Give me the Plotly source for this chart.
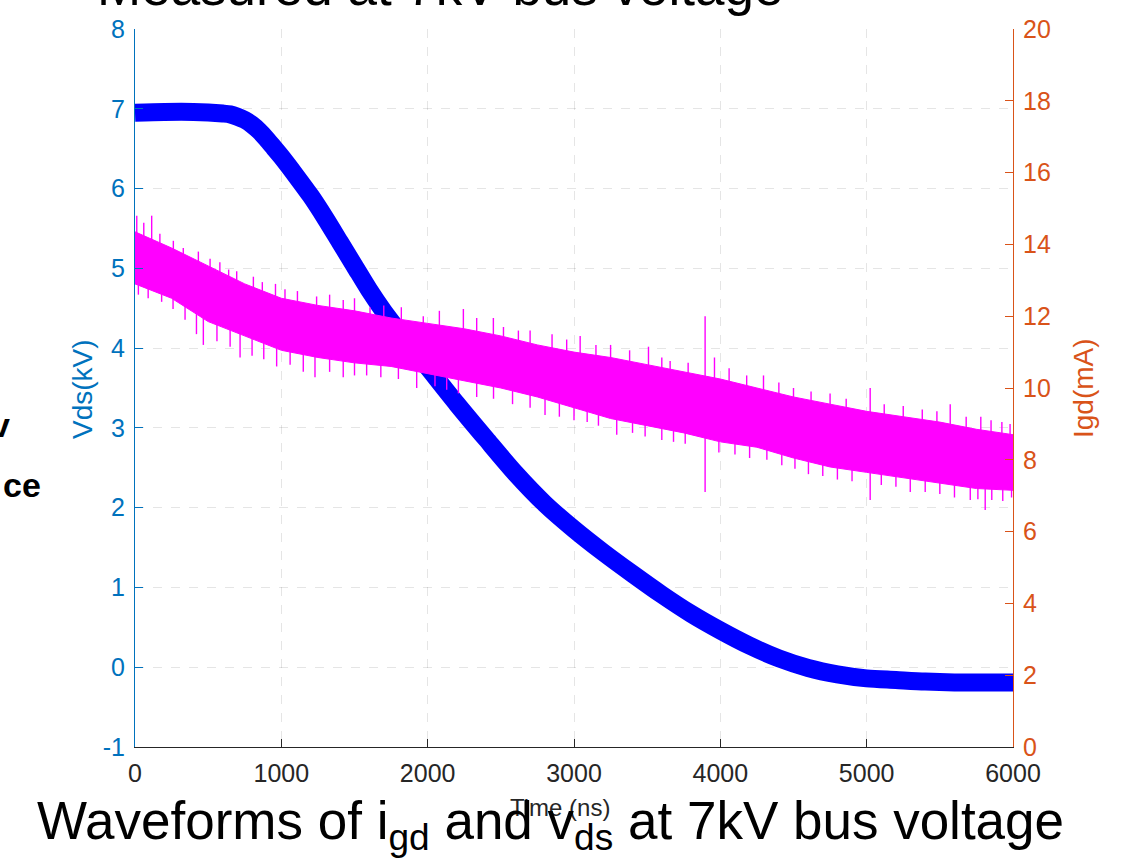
import plotly.graph_objects as go

# ---------------- data ----------------
# Vds (kV), left axis
t_vds = [0, 200, 400, 600, 650, 700, 750, 800, 850, 900, 950, 1000, 1100,
         1200, 1300, 1400, 1500, 1600, 1700, 1800, 1900, 2000, 2200, 2400,
         2600, 2800, 3000, 3200, 3400, 3600, 3800, 4000, 4200, 4400, 4600,
         4800, 5000, 5200, 5400, 5600, 5800, 6000]
vds = [6.95, 6.96, 6.96, 6.94, 6.93, 6.90, 6.86, 6.80, 6.72, 6.62, 6.51, 6.40,
       6.16, 5.91, 5.63, 5.33, 5.03, 4.73, 4.46, 4.22, 3.99, 3.76, 3.30, 2.86,
       2.43, 2.05, 1.73, 1.44, 1.17, 0.91, 0.67, 0.46, 0.27, 0.11, -0.01,
       -0.09, -0.14, -0.16, -0.18, -0.19, -0.19, -0.19]

# Igd (mA), right axis: dense band edges
t_igd = [0, 250, 500, 750, 1000, 1250, 1500, 1750, 2000, 2250, 2500, 2750,
         3000, 3250, 3500, 3750, 4000, 4250, 4500, 4750, 5000, 5250, 5500,
         5750, 6000]
igd_top = [14.35, 13.9, 13.4, 12.9, 12.5, 12.3, 12.15, 11.95, 11.8, 11.65,
           11.45, 11.2, 11.0, 10.85, 10.65, 10.45, 10.25, 10.0, 9.75, 9.55,
           9.35, 9.2, 9.05, 8.85, 8.7]
igd_bot = [12.9, 12.5, 11.85, 11.45, 11.05, 10.85, 10.7, 10.6, 10.4, 10.2,
           10.0, 9.75, 9.45, 9.15, 8.95, 8.75, 8.5, 8.35, 8.05, 7.8, 7.65, 7.5,
           7.35, 7.2, 7.15]

# Igd noise spikes: (time, tip value)
spike_up_t = [12, 60, 114, 170, 262, 330, 433, 513, 580, 640, 695, 809, 870,
              960, 1025, 1110, 1241, 1330, 1423, 1500, 1606, 1700, 1820, 1970,
              2080, 2244, 2335, 2449, 2518, 2620, 2700, 2850, 2950, 3042, 3150,
              3250, 3380, 3509, 3600, 3657, 3780, 3896, 3960, 4060, 4180, 4295,
              4400, 4500, 4620, 4750, 4860, 5024, 5120, 5250, 5380, 5480, 5571,
              5680, 5780, 5850, 5924, 5980]
spike_up_v = [14.8, 14.6, 14.8, 14.3, 14.1, 13.9, 13.8, 13.6, 13.5, 13.3,
              13.25, 13.1, 12.95, 12.9, 12.75, 12.7, 12.55, 12.6, 12.45, 12.5,
              12.25, 12.3, 12.25, 12.0, 12.15, 12.2, 11.95, 11.95, 11.7, 11.6,
              11.6, 11.5, 11.35, 11.45, 11.2, 11.2, 11.05, 11.15, 10.85, 10.75,
              10.7, 12.0, 10.85, 10.55, 10.35, 10.35, 10.15, 10.0, 9.9, 9.85,
              9.7, 10.0, 9.55, 9.5, 9.4, 9.35, 9.55, 9.2, 9.2, 9.1, 9.05, 9.0]
spike_dn_t = [23, 90, 182, 260, 342, 420, 467, 560, 650, 718, 800, 880, 968,
              1060, 1150, 1230, 1330, 1423, 1500, 1583, 1680, 1800, 1925, 2050,
              2130, 2210, 2335, 2450, 2580, 2700, 2802, 2900, 3000, 3090, 3167,
              3292, 3400, 3486, 3600, 3680, 3760, 3896, 3990, 4100, 4200, 4318,
              4420, 4510, 4602, 4700, 4800, 4900, 5024, 5100, 5200, 5298, 5400,
              5500, 5600, 5708, 5760, 5810, 5855, 5930, 5990]
spike_dn_v = [12.6, 12.5, 12.4, 12.2, 11.9, 11.5, 11.2, 11.3, 11.15, 10.85,
              10.9, 10.8, 10.6, 10.65, 10.45, 10.3, 10.45, 10.3, 10.35, 10.35,
              10.3, 10.25, 10.0, 10.05, 9.95, 9.85, 9.75, 9.7, 9.55, 9.45, 9.25,
              9.2, 9.1, 9.05, 8.95, 8.7, 8.75, 8.65, 8.55, 8.5, 8.45, 7.1, 8.2,
              8.15, 8.05, 8.0, 7.85, 7.75, 7.6, 7.55, 7.45, 7.4, 6.88, 7.3, 7.25,
              7.1, 7.1, 7.05, 6.95, 6.88, 6.9, 6.6, 6.88, 6.85, 6.95]

x_ticks = [0, 1000, 2000, 3000, 4000, 5000, 6000]
x_labels = ["0", "1000", "2000", "3000", "4000", "5000", "6000"]
y_ticks = [-1, 0, 1, 2, 3, 4, 5, 6, 7, 8]
y_labels = ["-1", "0", "1", "2", "3", "4", "5", "6", "7", "8"]
y2_ticks = [0, 2, 4, 6, 8, 10, 12, 14, 16, 18, 20]
y2_labels = ["0", "2", "4", "6", "8", "10", "12", "14", "16", "18", "20"]

# ---------------- styling ----------------
W, H = 1135, 864
L, R, T, B = 135, 122, 29, 117
PW, PH = W - L - R, H - T - B
BLUE_AX = "#0072BD"
ORANGE_AX = "#D95319"
DARK = "#262626"
FONT = "Liberation Sans, Arial, sans-serif"
TICK_SIZE = 25


def px(xp):
    return (xp - L) / PW


def py(yp):
    return (H - B - yp) / PH


def band_mid(t):
    # centre of the dense band at time t (from the band edge arrays)
    for i in range(len(t_igd) - 1):
        if t_igd[i] <= t <= t_igd[i + 1]:
            f = (t - t_igd[i]) / (t_igd[i + 1] - t_igd[i])
            top = igd_top[i] + f * (igd_top[i + 1] - igd_top[i])
            bot = igd_bot[i] + f * (igd_bot[i + 1] - igd_bot[i])
            return (top + bot) / 2
    return (igd_top[-1] + igd_bot[-1]) / 2


sx, sy = [], []
for t, v in zip(spike_up_t + spike_dn_t, spike_up_v + spike_dn_v):
    sx += [t, t, None]
    sy += [band_mid(t), v, None]

fig = go.Figure()

fig.add_trace(go.Scatter(x=t_vds, y=vds, mode="lines",
                         line=dict(color="#0000FF", width=18, shape="spline",
                                   smoothing=0.8),
                         hoverinfo="skip", showlegend=False, yaxis="y"))

fig.add_trace(go.Scatter(x=t_igd, y=igd_top, mode="lines",
                         line=dict(color="#FF00FF", width=1),
                         hoverinfo="skip", showlegend=False, yaxis="y2"))
fig.add_trace(go.Scatter(x=t_igd, y=igd_bot, mode="lines", fill="tonexty",
                         fillcolor="#FF00FF",
                         line=dict(color="#FF00FF", width=1),
                         hoverinfo="skip", showlegend=False, yaxis="y2"))
fig.add_trace(go.Scatter(x=sx, y=sy, mode="lines",
                         line=dict(color="#FF00FF", width=1.4),
                         hoverinfo="skip", showlegend=False, yaxis="y2"))

grid = "rgba(0,0,0,0.10)"
fig.update_layout(
    width=W, height=H,
    margin=dict(l=L, r=R, t=T, b=B, pad=0),
    paper_bgcolor="white", plot_bgcolor="white",
    font=dict(family=FONT, size=22, color=DARK),
    xaxis=dict(range=[0, 6000], tickvals=x_ticks, ticktext=x_labels,
               ticks="inside", ticklen=8,
               tickcolor=DARK, showline=True, linecolor=DARK, linewidth=1,
               showgrid=True, gridcolor=grid, griddash="dash", zeroline=False,
               tickfont=dict(size=TICK_SIZE, color=DARK), ticklabelstandoff=4),
    yaxis=dict(range=[-1, 8], tickvals=y_ticks, ticktext=y_labels,
               ticks="inside", ticklen=8,
               tickcolor=BLUE_AX, showline=True, linecolor=BLUE_AX,
               linewidth=1, showgrid=True, gridcolor=grid, griddash="dash",
               zeroline=False, tickfont=dict(size=TICK_SIZE, color=BLUE_AX),
               ticklabelstandoff=4),
    yaxis2=dict(range=[0, 20], tickvals=y2_ticks, ticktext=y2_labels,
                overlaying="y",
                side="right", ticks="inside", ticklen=8, tickcolor=ORANGE_AX,
                showline=True, linecolor=ORANGE_AX, linewidth=1,
                showgrid=False, zeroline=False,
                tickfont=dict(size=TICK_SIZE, color=ORANGE_AX),
                ticklabelstandoff=4),
)

ann = [
    dict(text="Vds(kV)", x=px(82), y=py(389), textangle=-90,
         font=dict(size=28, color=BLUE_AX)),
    dict(text="Igd(mA)", x=px(1083), y=py(388), textangle=-90,
         font=dict(size=28, color=ORANGE_AX)),
    dict(text="Time (ns)", x=px(560), y=py(807),
         font=dict(size=24, color=DARK)),
    dict(text="Waveforms of i<sub>gd</sub> and v<sub>ds</sub> at 7kV bus voltage",
         x=px(550), y=py(825), font=dict(size=53, color="black")),
    dict(text="Measured at 7kV bus voltage", x=px(440), y=py(-14),
         font=dict(size=53, color="black")),
    dict(text="<b>v</b>", x=px(12), y=py(425), xanchor="right",
         font=dict(size=34, color="black")),
    dict(text="<b>ce</b>", x=px(43), y=py(485), xanchor="right",
         font=dict(size=34, color="black")),
]
for a in ann:
    a.setdefault("xanchor", "center")
    a.update(xref="paper", yref="paper", showarrow=False, yanchor="middle")
    fig.add_annotation(**a)

fig.write_html("out.html")
